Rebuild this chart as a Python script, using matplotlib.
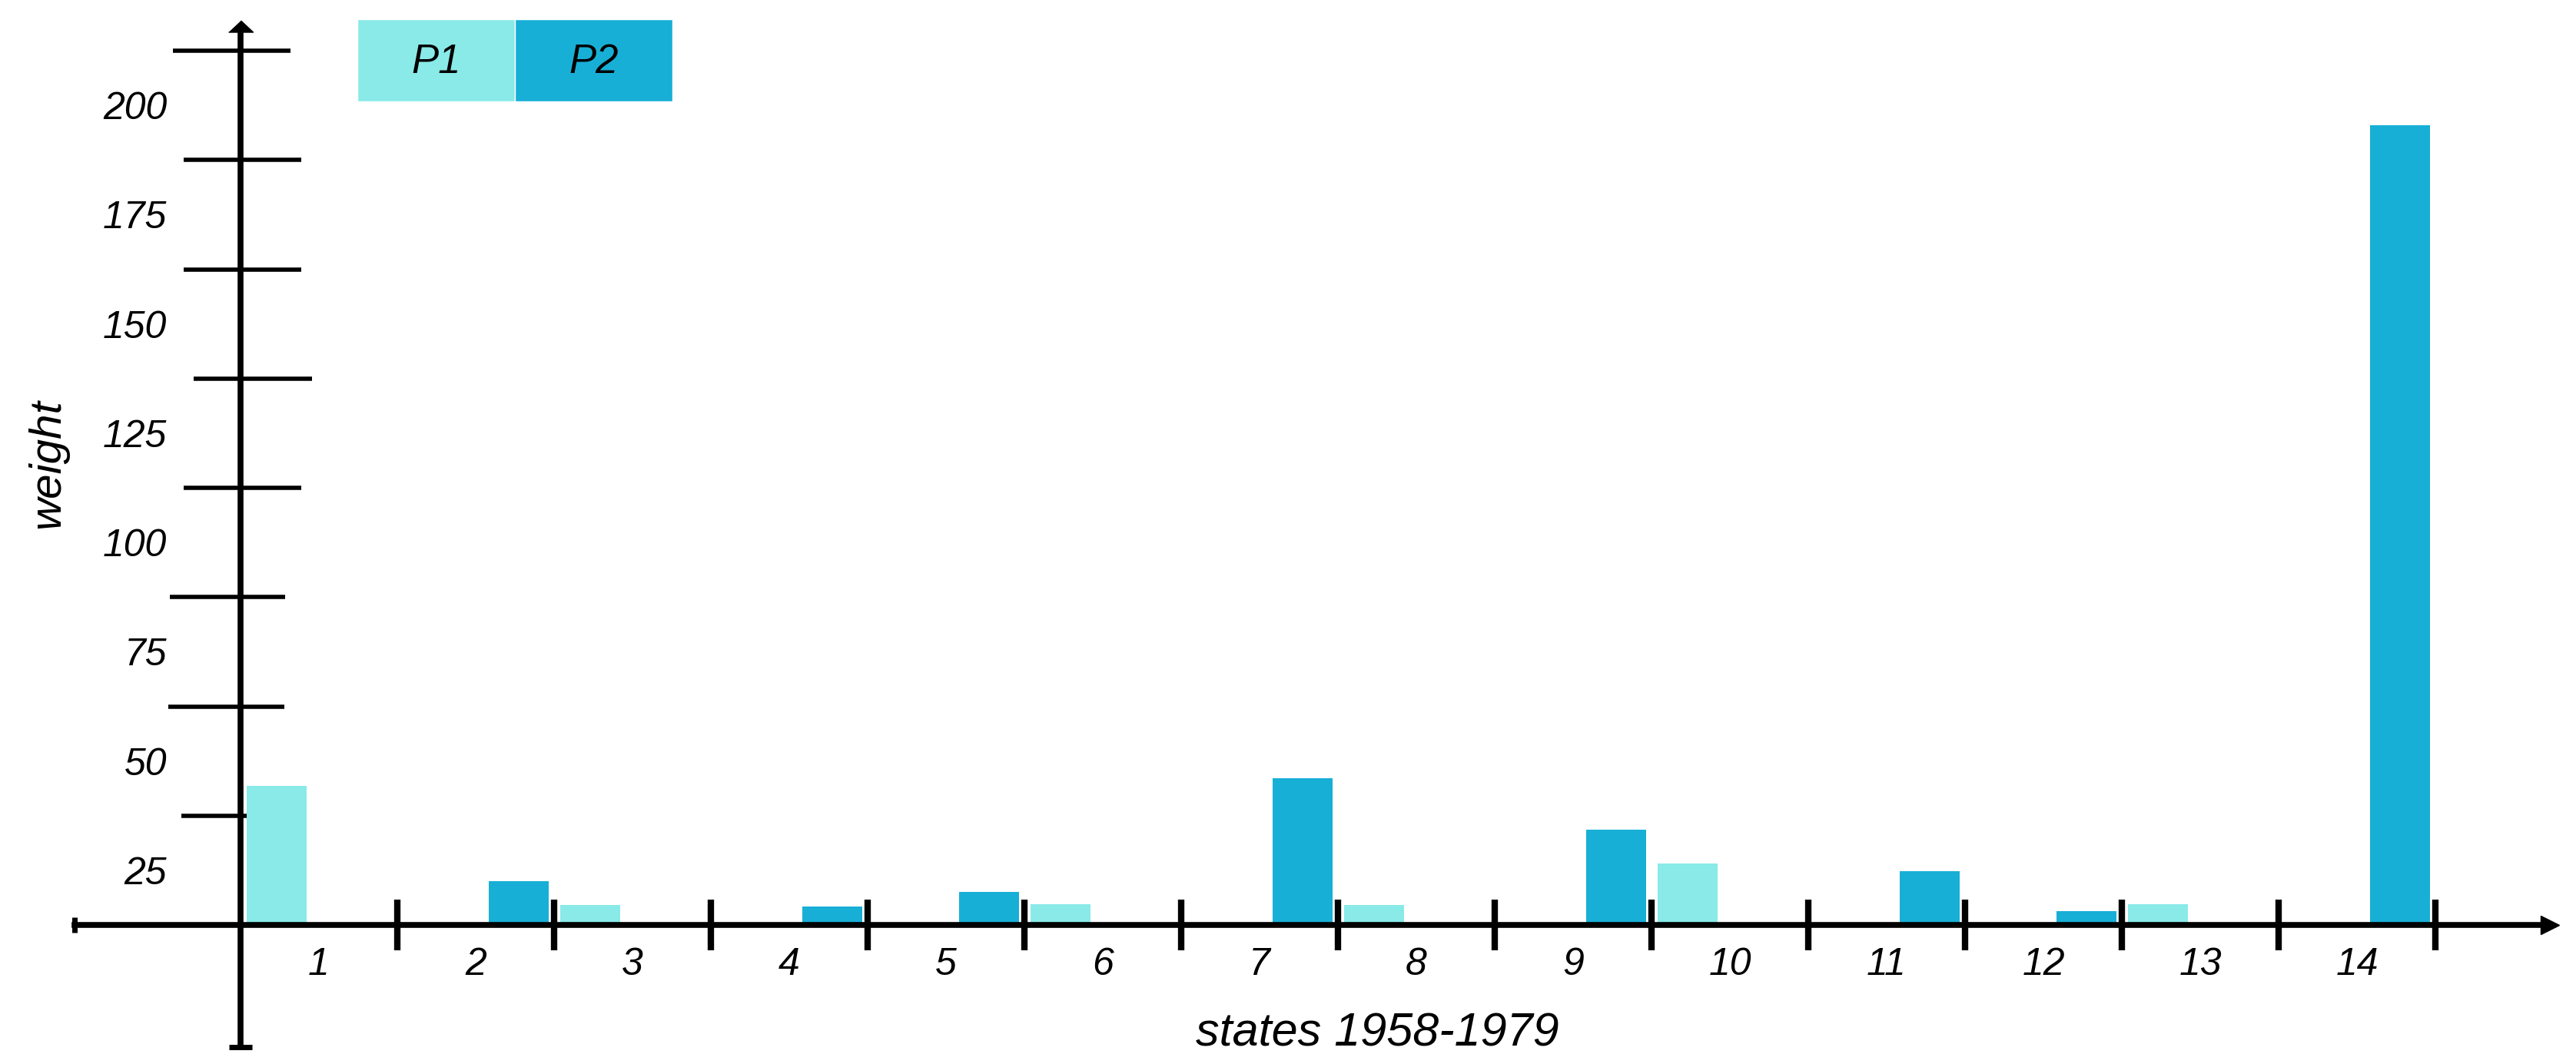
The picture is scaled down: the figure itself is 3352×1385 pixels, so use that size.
import matplotlib
matplotlib.use("Agg")
import matplotlib.pyplot as plt
from matplotlib.patches import Rectangle
from matplotlib.transforms import ScaledTranslation
import numpy as np

# ---------------- data ----------------
categories = ['1', '2', '3', '4', '5', '6', '7', '8', '9', '10', '11', '12', '13', '14']
series_names = ['P1', 'P2']
p1_values = [31.8, 0, 4.5, 0, 0, 4.7, 0, 4.6, 0, 14.1, 0, 0, 4.7, 0]
p2_values = [0, 10.0, 0, 4.3, 7.6, 0, 33.6, 0, 21.8, 0, 12.3, 3.2, 0, 183.0]
y_tick_values = [25, 50, 75, 100, 125, 150, 175, 200]
y_tick_labels = ['25', '50', '75', '100', '125', '150', '175', '200']
x_label = 'states 1958-1979'
y_label = 'weight'

# ---------------- style ----------------
colors = ['#89EAE8', '#18AFD6']
plt.rcParams['font.family'] = ['Liberation Sans', 'DejaVu Sans']
plt.rcParams['font.style'] = 'italic'

W, H = 3352, 1385
fig = plt.figure(figsize=(W / 100, H / 100), dpi=100)

# axes box in pixels
ax_l, ax_r, ax_t, ax_b = 97, 3330, 26, 1363
ax = fig.add_axes([ax_l / W, 1 - ax_b / H, (ax_r - ax_l) / W, (ax_b - ax_t) / H])

# scale: one category slot = 204 px, y-axis at x=0.5 (px 313); zero at px 1204, 5.69 px/unit
slot_px, yaxis_px = 204.0, 313.0
zero_px, unit_px = 1204.0, 5.69
xmin = 0.5 + (ax_l - yaxis_px) / slot_px
xmax = 0.5 + (ax_r - yaxis_px) / slot_px
ymin = (zero_px - ax_b) / unit_px
ymax = (zero_px - ax_t) / unit_px
ax.set_xlim(xmin, xmax)
ax.set_ylim(ymin, ymax)

x = np.arange(1, len(categories) + 1)
bw = 0.385
ax.bar(x - 0.27, p1_values, width=bw, color=colors[0], linewidth=0, zorder=1)
ax.bar(x + 0.275, p2_values, width=bw, color=colors[1], linewidth=0, zorder=1)

# spines
for s in ['top', 'right']:
    ax.spines[s].set_visible(False)
ax.spines['left'].set_position(('data', 0.5))
ax.spines['bottom'].set_position(('data', 0))
ax.spines['left'].set_linewidth(5.5)
ax.spines['bottom'].set_linewidth(5.5)
ax.spines['left'].set_zorder(3)
ax.spines['bottom'].set_zorder(3)
ax.spines['left'].set_bounds(ymin, ymax - 2.0)
ax.spines['bottom'].set_bounds(xmin, xmax - 0.07)

# x ticks: boundaries (marks) + centres (labels)
ax.set_xticks(x + 0.5)
ax.set_xticks(x, labels=categories, minor=True)
ax.tick_params(axis='x', which='major', direction='inout', length=47, width=6,
               labelbottom=False, color='black')
ax.tick_params(axis='x', which='minor', length=0, pad=21, labelsize=36)

# y ticks: labels drawn between tick marks
ax.set_yticks([])
ax.set_yticks(np.array(y_tick_values) - 12.5, labels=y_tick_labels, minor=True)
ax.tick_params(axis='y', which='minor', length=0, pad=69, labelsize=36)

# hand-drawn style y tick marks (left/right reach in px)
tick_left_px = [77, 94, 92, 74, 61, 74, 74, 88]
tick_right_px = [8, 57, 58, 79, 93, 79, 79, 65]
px_per_x = (ax_r - ax_l) / (xmax - xmin)
ax.hlines(y_tick_values,
          0.5 - np.array(tick_left_px) / px_per_x,
          0.5 + np.array(tick_right_px) / px_per_x,
          colors='black', linewidth=4, clip_on=False, zorder=3)

# arrow heads
ms_x = 17
ax.plot([1], [0], marker='>', ms=ms_x, color='black', clip_on=False, zorder=4,
        transform=ax.get_yaxis_transform() + ScaledTranslation(-ms_x / 2 / 72, 0, fig.dpi_scale_trans))
ms_y = 23
ax.plot([0.5], [1], marker=[(-1, -0.47), (1, -0.47), (0, 0.47)], ms=ms_y, color='black',
        clip_on=False, zorder=4,
        transform=ax.get_xaxis_transform() + ScaledTranslation(0, -0.235 * ms_y / 72, fig.dpi_scale_trans))
# end caps
ax.plot([0.5], [ymin], marker='_', ms=22, mew=5, color='black', clip_on=False, zorder=4)
ax.plot([xmin], [0], marker='|', ms=15, mew=5, color='black', clip_on=False, zorder=4)

# axis labels
ax.set_xlabel(x_label, fontsize=44)
ax.xaxis.set_label_coords(1792 / W, 1 - 1361 / H, transform=fig.transFigure)
ax.xaxis.label.set_verticalalignment('baseline')
ax.xaxis.label.set_horizontalalignment('center')

ax.set_ylabel(y_label, fontsize=42)
ax.yaxis.set_label_coords(62 / W, 1 - 604 / H, transform=fig.transFigure)
ax.yaxis.label.set_verticalalignment('center')
ax.yaxis.label.set_horizontalalignment('center')

# legend: two adjacent coloured boxes
leg_x0, leg_w, leg_top, leg_h = 465, 205, 25, 107
for k, (name, col) in enumerate(zip(series_names, colors)):
    fig.patches.append(Rectangle(((leg_x0 + k * leg_w) / W, 1 - (leg_top + leg_h) / H),
                                 leg_w / W, leg_h / H, transform=fig.transFigure,
                                 facecolor=col, edgecolor='white', linewidth=1))
    fig.text((leg_x0 + k * leg_w + leg_w / 2) / W, 1 - 95 / H, name,
             ha='center', va='baseline', fontsize=38)

fig.savefig('out.png', dpi=100, facecolor='white')
